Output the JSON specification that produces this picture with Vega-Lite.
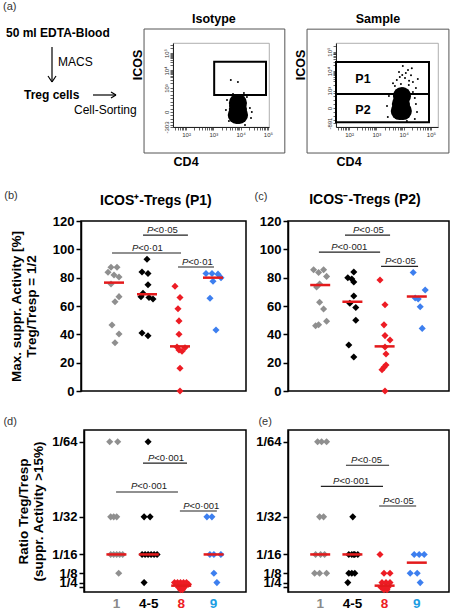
{
 "$schema": "https://vega.github.io/schema/vega-lite/v6.json",
 "padding": {"left": 2, "top": 1, "right": 0, "bottom": 0},
 "config": {"font": "Liberation Sans", "view": {"stroke": null}, "axis": {"grid": false, "labelFlush": false, "labelOverlap": false}},
 "datasets": {
  "flowText": [
   {"x": 0, "y": -36, "t": "(a)", "k": "tag"},
   {"x": 3, "y": -10, "t": "50 ml EDTA-Blood", "k": "bold"},
   {"x": 21, "y": 52, "t": "Treg cells", "k": "bold"},
   {"x": 55, "y": 19, "t": "MACS", "k": "plain"},
   {"x": 71, "y": 67, "t": "Cell-Sorting", "k": "plain"}
  ],
  "flowArrows": [
   {"x": 49, "y": 4, "x2": 49, "y2": 39},
   {"x": 45, "y": 33, "x2": 49, "y2": 39},
   {"x": 53, "y": 33, "x2": 49, "y2": 39},
   {"x": 90, "y": 52, "x2": 113, "y2": 52},
   {"x": 108, "y": 49, "x2": 113, "y2": 52},
   {"x": 108, "y": 55, "x2": 113, "y2": 52}
  ],
  "isoBoxes": [
   {"x": 0.458, "x2": 5.62, "y": -0.716, "y2": 6.37, "k": "outer"},
   {"x": 3.03, "x2": 4.93, "y": 2.6, "y2": 4.5, "k": "gate"}
  ],
  "isoCells": [
   {"x": 3.9, "y": 2.14, "k": "core"}, {"x": 3.9, "y": 1.8, "k": "core"}, {"x": 3.86, "y": 1.46, "k": "core"}, {"x": 3.94, "y": 1.46, "k": "core"},
   {"x": 3.5, "y": 2.31, "k": "speck"}, {"x": 4.34, "y": 1.86, "k": "speck"}, {"x": 4.23, "y": 2.48, "k": "speck"}, {"x": 3.57, "y": 1.11, "k": "speck"},
   {"x": 4.38, "y": 1.28, "k": "speck"}, {"x": 3.72, "y": 2.66, "k": "speck"}, {"x": 4.12, "y": 2.71, "k": "speck"}, {"x": 3.46, "y": 1.74, "k": "speck"},
   {"x": 4.41, "y": 1.63, "k": "speck"}, {"x": 3.64, "y": 3.46, "k": "speck"}, {"x": 3.9, "y": 3.34, "k": "speck"}, {"x": 4.16, "y": 0.88, "k": "speck"},
   {"x": 3.61, "y": 1.97, "k": "speck"}
  ],
  "isoText": [
   {"x": 3.02, "y": 6.94, "t": "Isotype", "k": "lab"},
   {"x": 2.0, "y": -1.23, "t": "CD4", "k": "lab"},
   {"x": 0.24, "y": 4.31, "t": "ICOS", "k": "ylab"}
  ],
  "samBoxes": [
   {"x": 0.458, "x2": 5.66, "y": -0.205, "y2": 6.15, "k": "outer"},
   {"x": 1.52, "x2": 4.93, "y": 2.82, "y2": 4.46, "k": "gate"},
   {"x": 1.52, "x2": 4.93, "y": 1.38, "y2": 2.82, "k": "gate"}
  ],
  "samCells": [
   {"x": 3.94, "y": 2.72, "k": "core"}, {"x": 3.9, "y": 2.31, "k": "core"}, {"x": 3.86, "y": 1.95, "k": "core"}, {"x": 3.97, "y": 1.95, "k": "core"},
   {"x": 3.97, "y": 4.26, "k": "speck"}, {"x": 4.16, "y": 4.05, "k": "speck"}, {"x": 3.83, "y": 3.95, "k": "speck"}, {"x": 4.27, "y": 3.79, "k": "speck"},
   {"x": 4.05, "y": 3.64, "k": "speck"}, {"x": 3.75, "y": 3.54, "k": "speck"}, {"x": 4.34, "y": 3.44, "k": "speck"}, {"x": 3.9, "y": 3.33, "k": "speck"},
   {"x": 4.19, "y": 3.28, "k": "speck"}, {"x": 3.68, "y": 3.23, "k": "speck"}, {"x": 4.45, "y": 3.13, "k": "speck"}, {"x": 4.08, "y": 3.9, "k": "speck"},
   {"x": 3.86, "y": 3.69, "k": "speck"}, {"x": 4.3, "y": 4.15, "k": "speck"}, {"x": 4.01, "y": 4.46, "k": "speck"}, {"x": 4.52, "y": 3.59, "k": "speck"},
   {"x": 3.61, "y": 3.38, "k": "speck"}, {"x": 4.34, "y": 2.92, "k": "speck"}, {"x": 4.41, "y": 2.62, "k": "speck"}, {"x": 3.46, "y": 2.72, "k": "speck"},
   {"x": 4.45, "y": 2.31, "k": "speck"}, {"x": 3.39, "y": 2.21, "k": "speck"}, {"x": 4.49, "y": 1.9, "k": "speck"}, {"x": 3.42, "y": 1.64, "k": "speck"},
   {"x": 4.41, "y": 1.54, "k": "speck"}, {"x": 4.93, "y": 4.36, "k": "speck"}, {"x": 3.72, "y": 1.59, "k": "speck"}, {"x": 4.12, "y": 1.44, "k": "speck"},
   {"x": 4.0, "y": 3.1, "k": "speck"}, {"x": 3.8, "y": 3.05, "k": "speck"}, {"x": 4.2, "y": 3.5, "k": "speck"}, {"x": 3.95, "y": 3.8, "k": "speck"}
  ],
  "samText": [
   {"x": 3.06, "y": 6.67, "t": "Sample", "k": "lab"},
   {"x": 2.0, "y": -0.67, "t": "CD4", "k": "lab"},
   {"x": 2.51, "y": 3.59, "t": "P1", "k": "lab"},
   {"x": 2.51, "y": 2.0, "t": "P2", "k": "lab"},
   {"x": 0.24, "y": 4.31, "t": "ICOS", "k": "ylab"}
  ],
  "ptsB": [
   {"grp": "1", "v": 87.3, "jit": -3}, {"grp": "1", "v": 87.3, "jit": 3}, {"grp": "1", "v": 83.8, "jit": -6}, {"grp": "1", "v": 81.9, "jit": 0}, {"grp": "1", "v": 80.5, "jit": 5}, {"grp": "1", "v": 75.5, "jit": -3}, {"grp": "1", "v": 66.6, "jit": 5}, {"grp": "1", "v": 63, "jit": 1}, {"grp": "1", "v": 46.6, "jit": -2}, {"grp": "1", "v": 40.2, "jit": 5}, {"grp": "1", "v": 34.1, "jit": 1},
   {"grp": "4-5", "v": 93, "jit": 0}, {"grp": "4-5", "v": 84, "jit": -5}, {"grp": "4-5", "v": 83, "jit": 1}, {"grp": "4-5", "v": 75, "jit": 1}, {"grp": "4-5", "v": 69, "jit": -4}, {"grp": "4-5", "v": 66.5, "jit": -6}, {"grp": "4-5", "v": 66, "jit": 2}, {"grp": "4-5", "v": 65, "jit": 6}, {"grp": "4-5", "v": 41, "jit": -5}, {"grp": "4-5", "v": 39, "jit": 1},
   {"grp": "8", "v": 74, "jit": -5}, {"grp": "8", "v": 66, "jit": 0}, {"grp": "8", "v": 58, "jit": -2}, {"grp": "8", "v": 49.5, "jit": -1}, {"grp": "8", "v": 40, "jit": -1}, {"grp": "8", "v": 31, "jit": -3}, {"grp": "8", "v": 30.5, "jit": 5}, {"grp": "8", "v": 29, "jit": -1}, {"grp": "8", "v": 28, "jit": 2}, {"grp": "8", "v": 16, "jit": 0}, {"grp": "8", "v": 0, "jit": 0},
   {"grp": "9", "v": 83, "jit": -7}, {"grp": "9", "v": 83, "jit": -1}, {"grp": "9", "v": 82.5, "jit": 5}, {"grp": "9", "v": 80, "jit": 8}, {"grp": "9", "v": 77.5, "jit": 0}, {"grp": "9", "v": 65.5, "jit": -3}, {"grp": "9", "v": 43, "jit": 3}
  ],
  "medB": [{"grp": "1", "v": 76.5}, {"grp": "4-5", "v": 68.3}, {"grp": "8", "v": 31.5}, {"grp": "9", "v": 80}],
  "sigB": [
   {"ax": 0.88, "ax2": 2.24, "xt": 1.0, "v": 110, "rest": "<0·05"},
   {"ax": -0.06, "ax2": 2.03, "xt": 0.545, "v": 97.4, "rest": "<0·01"},
   {"ax": 1.94, "ax2": 3.03, "xt": 2.06, "v": 87.5, "rest": "<0·01"}
  ],
  "labB": [{"xt": 1.27, "v": 134, "t": "ICOS⁺-Tregs (P1)", "k": "title"}, {"xt": -3.12, "v": 138, "t": "(b)", "k": "tag"}],
  "ptsC": [
   {"grp": "1", "v": 85.6, "jit": -7}, {"grp": "1", "v": 83.7, "jit": -2}, {"grp": "1", "v": 85.6, "jit": 3}, {"grp": "1", "v": 80.9, "jit": 6}, {"grp": "1", "v": 75.5, "jit": -1}, {"grp": "1", "v": 73.4, "jit": -4}, {"grp": "1", "v": 62.6, "jit": -1}, {"grp": "1", "v": 57.9, "jit": 3}, {"grp": "1", "v": 46.1, "jit": -5}, {"grp": "1", "v": 46.8, "jit": -2}, {"grp": "1", "v": 49.2, "jit": 6},
   {"grp": "4-5", "v": 84, "jit": 1}, {"grp": "4-5", "v": 80, "jit": -5}, {"grp": "4-5", "v": 79, "jit": -1}, {"grp": "4-5", "v": 77, "jit": 1}, {"grp": "4-5", "v": 67, "jit": 1}, {"grp": "4-5", "v": 62, "jit": -3}, {"grp": "4-5", "v": 59, "jit": 3}, {"grp": "4-5", "v": 50, "jit": 3}, {"grp": "4-5", "v": 32.5, "jit": -4}, {"grp": "4-5", "v": 24, "jit": 1},
   {"grp": "8", "v": 78.3, "jit": -5}, {"grp": "8", "v": 60.9, "jit": 0}, {"grp": "8", "v": 46.7, "jit": -1}, {"grp": "8", "v": 39.1, "jit": 0}, {"grp": "8", "v": 36, "jit": 5}, {"grp": "8", "v": 31, "jit": 0}, {"grp": "8", "v": 26.1, "jit": 1}, {"grp": "8", "v": 18.3, "jit": 1}, {"grp": "8", "v": 16.7, "jit": -1}, {"grp": "8", "v": 15, "jit": -3}, {"grp": "8", "v": 0, "jit": 0},
   {"grp": "9", "v": 83.7, "jit": -4}, {"grp": "9", "v": 71.3, "jit": 8}, {"grp": "9", "v": 65.6, "jit": -2}, {"grp": "9", "v": 64.9, "jit": 1}, {"grp": "9", "v": 59.5, "jit": 3}, {"grp": "9", "v": 44.2, "jit": 5}
  ],
  "medC": [{"grp": "1", "v": 74.8}, {"grp": "4-5", "v": 63}, {"grp": "8", "v": 31.5}, {"grp": "9", "v": 66.7}],
  "sigC": [
   {"ax": 0.77, "ax2": 2.17, "xt": 1.02, "v": 110, "rest": "<0·05"},
   {"ax": -0.04, "ax2": 1.86, "xt": 0.34, "v": 98, "rest": "<0·001"},
   {"ax": 1.89, "ax2": 3.04, "xt": 2.01, "v": 88, "rest": "<0·05"}
  ],
  "labC": [{"xt": 1.39, "v": 135, "t": "ICOS⁻-Tregs (P2)", "k": "title"}, {"xt": -1.84, "v": 137, "t": "(c)", "k": "tag"}],
  "ptsD": [
   {"grp": "1", "v": 64, "jit": -7}, {"grp": "1", "v": 64, "jit": 1}, {"grp": "1", "v": 32, "jit": -6}, {"grp": "1", "v": 32, "jit": -3}, {"grp": "1", "v": 32, "jit": 0}, {"grp": "1", "v": 16, "jit": -6}, {"grp": "1", "v": 16, "jit": -3}, {"grp": "1", "v": 16, "jit": 0}, {"grp": "1", "v": 16, "jit": 3}, {"grp": "1", "v": 16, "jit": 6}, {"grp": "1", "v": 8, "jit": 2},
   {"grp": "4-5", "v": 64, "jit": -1}, {"grp": "4-5", "v": 32, "jit": -5}, {"grp": "4-5", "v": 32, "jit": 1}, {"grp": "4-5", "v": 16, "jit": -7}, {"grp": "4-5", "v": 16, "jit": -4}, {"grp": "4-5", "v": 16, "jit": -1}, {"grp": "4-5", "v": 16, "jit": 2}, {"grp": "4-5", "v": 16, "jit": 5}, {"grp": "4-5", "v": 16, "jit": 8}, {"grp": "4-5", "v": 4, "jit": -5},
   {"grp": "8", "v": 4, "jit": -7}, {"grp": "8", "v": 4, "jit": -4}, {"grp": "8", "v": 4, "jit": -1}, {"grp": "8", "v": 4, "jit": 2}, {"grp": "8", "v": 4, "jit": 5}, {"grp": "8", "v": 3.3, "jit": 7}, {"grp": "8", "v": 2, "jit": -3}, {"grp": "8", "v": 2, "jit": 0}, {"grp": "8", "v": 2, "jit": 3}, {"grp": "8", "v": 1, "jit": -1}, {"grp": "8", "v": 1, "jit": 1},
   {"grp": "9", "v": 32, "jit": -7}, {"grp": "9", "v": 32, "jit": -2}, {"grp": "9", "v": 16, "jit": -4}, {"grp": "9", "v": 16, "jit": 0}, {"grp": "9", "v": 16, "jit": 7}, {"grp": "9", "v": 8, "jit": 0}, {"grp": "9", "v": 4, "jit": 3}
  ],
  "medD": [{"grp": "1", "v": 16}, {"grp": "4-5", "v": 16}, {"grp": "8", "v": 2.7}, {"grp": "9", "v": 16}],
  "sigD": [
   {"ax": 0.82, "ax2": 2.18, "xt": 0.975, "v": 54.9, "rest": "<0·001"},
   {"ax": -0.01, "ax2": 1.9, "xt": 0.45, "v": 42.6, "rest": "<0·001"},
   {"ax": 1.96, "ax2": 3.1, "xt": 2.06, "v": 34.5, "rest": "<0·001"}
  ],
  "labD": [{"xt": -3.28, "v": 72.3, "t": "(d)", "k": "tag"}],
  "ptsE": [
   {"grp": "1", "v": 64, "jit": -3}, {"grp": "1", "v": 64, "jit": 1}, {"grp": "1", "v": 64, "jit": 6}, {"grp": "1", "v": 32, "jit": -1}, {"grp": "1", "v": 32, "jit": 3}, {"grp": "1", "v": 16, "jit": -5}, {"grp": "1", "v": 16, "jit": 0}, {"grp": "1", "v": 16, "jit": 4}, {"grp": "1", "v": 8, "jit": -6}, {"grp": "1", "v": 8, "jit": -1}, {"grp": "1", "v": 8, "jit": 6},
   {"grp": "4-5", "v": 32, "jit": 0}, {"grp": "4-5", "v": 16, "jit": -4}, {"grp": "4-5", "v": 16, "jit": -1}, {"grp": "4-5", "v": 16, "jit": 2}, {"grp": "4-5", "v": 16, "jit": 5}, {"grp": "4-5", "v": 16, "jit": 1}, {"grp": "4-5", "v": 8, "jit": -4}, {"grp": "4-5", "v": 8, "jit": -1}, {"grp": "4-5", "v": 8, "jit": 2}, {"grp": "4-5", "v": 4, "jit": -5},
   {"grp": "8", "v": 16, "jit": -5}, {"grp": "8", "v": 8, "jit": -1}, {"grp": "8", "v": 8, "jit": 5}, {"grp": "8", "v": 4, "jit": -3}, {"grp": "8", "v": 4, "jit": 1}, {"grp": "8", "v": 4, "jit": 5}, {"grp": "8", "v": 2, "jit": -4}, {"grp": "8", "v": 2, "jit": 0}, {"grp": "8", "v": 2, "jit": 3}, {"grp": "8", "v": 1, "jit": -1}, {"grp": "8", "v": 1, "jit": 2},
   {"grp": "9", "v": 16, "jit": -3}, {"grp": "9", "v": 16, "jit": 2}, {"grp": "9", "v": 16, "jit": 7}, {"grp": "9", "v": 8, "jit": -7}, {"grp": "9", "v": 8, "jit": 0}, {"grp": "9", "v": 4, "jit": 3}
  ],
  "medE": [{"grp": "1", "v": 16}, {"grp": "4-5", "v": 16}, {"grp": "8", "v": 2.7}, {"grp": "9", "v": 12.5}],
  "sigE": [
   {"ax": 0.8, "ax2": 2.14, "xt": 0.96, "v": 54, "rest": "<0·05"},
   {"ax": 0.02, "ax2": 1.95, "xt": 0.4, "v": 45, "rest": "<0·001"},
   {"ax": 1.83, "ax2": 2.98, "xt": 1.95, "v": 36.6, "rest": "<0·05"}
  ],
  "labE": [{"xt": -1.71, "v": 72.3, "t": "(e)", "k": "tag"}]
 },
 "bounds": "flush",
 "spacing": 178,
 "vconcat": [
  {
   "bounds": "flush",
   "spacing": 22,
   "hconcat": [
    {
     "width": 148, "height": 84,
     "layer": [
      {"data": {"name": "flowText"}, "transform": [{"filter": "datum.k === 'bold'"}],
       "mark": {"type": "text", "align": "left", "baseline": "middle", "fontSize": 12, "fontWeight": "bold", "color": "black"},
       "encoding": {"x": {"field": "x", "type": "quantitative", "scale": {"domain": [0, 148], "nice": false, "zero": false}, "axis": null},
                    "y": {"field": "y", "type": "quantitative", "scale": {"domain": [0, 84], "reverse": true, "nice": false, "zero": false}, "axis": null},
                    "text": {"field": "t"}}},
      {"data": {"name": "flowText"}, "transform": [{"filter": "datum.k === 'plain'"}],
       "mark": {"type": "text", "align": "left", "baseline": "middle", "fontSize": 12, "color": "black"},
       "encoding": {"x": {"field": "x", "type": "quantitative", "scale": {"domain": [0, 148], "nice": false, "zero": false}, "axis": null},
                    "y": {"field": "y", "type": "quantitative", "scale": {"domain": [0, 84], "reverse": true, "nice": false, "zero": false}, "axis": null},
                    "text": {"field": "t"}}},
      {"data": {"name": "flowText"}, "transform": [{"filter": "datum.k === 'tag'"}],
       "mark": {"type": "text", "align": "left", "baseline": "middle", "fontSize": 11, "color": "#333"},
       "encoding": {"x": {"field": "x", "type": "quantitative", "scale": {"domain": [0, 148], "nice": false, "zero": false}, "axis": null},
                    "y": {"field": "y", "type": "quantitative", "scale": {"domain": [0, 84], "reverse": true, "nice": false, "zero": false}, "axis": null},
                    "text": {"field": "t"}}},
      {"data": {"name": "flowArrows"},
       "mark": {"type": "rule", "color": "black", "strokeWidth": 1.2},
       "encoding": {"x": {"field": "x", "type": "quantitative", "scale": {"domain": [0, 148], "nice": false, "zero": false}, "axis": null},
                    "y": {"field": "y", "type": "quantitative", "scale": {"domain": [0, 84], "reverse": true, "nice": false, "zero": false}, "axis": null},
                    "x2": {"field": "x2"}, "y2": {"field": "y2"}}}
     ]
    },
    {
     "bounds": "flush",
     "spacing": 67,
     "hconcat": [
      {
       "width": 96, "height": 84,
       "view": {"stroke": "#9a9a9a", "strokeWidth": 0.8},
       "layer": [
        {"data": {"name": "isoBoxes"}, "transform": [{"filter": "datum.k === 'outer'"}],
         "mark": {"type": "rect", "fillOpacity": 0, "stroke": "#555", "strokeWidth": 1},
         "encoding": {
          "x": {"field": "x", "type": "quantitative", "scale": {"domain": [1.52, 5.04], "nice": false, "zero": false},
                "axis": {"title": null, "labelOverlap": false, "tickCount": 200, "values": [1.6, 1.7, 1.78, 1.85, 1.9, 1.95, 2, 2.3, 2.48, 2.6, 2.7, 2.78, 2.85, 2.9, 2.95, 3, 3.3, 3.48, 3.6, 3.7, 3.78, 3.85, 3.9, 3.95, 4, 4.3, 4.48, 4.6, 4.7, 4.78, 4.85, 4.9, 4.95, 5],
                         "labelExpr": "datum.value === 2 ? '10²' : datum.value === 3 ? '10³' : datum.value === 4 ? '10⁴' : datum.value === 5 ? '10⁵' : ''",
                         "labelFontSize": 6, "labelColor": "#333", "labelPadding": 1, "tickSize": 3, "tickColor": "#222", "tickWidth": 0.7, "domainColor": "#222", "domainWidth": 1}},
          "x2": {"field": "x2"},
          "y": {"field": "y", "type": "quantitative", "scale": {"domain": [0.77, 5.57], "nice": false, "zero": false},
                "axis": {"title": null, "labelOverlap": false, "tickCount": 200, "values": [0.77, 0.9, 1.05, 1.25, 1.45, 1.63, 1.8, 2.0, 2.2, 2.4, 2.6, 2.8, 3, 3.3, 3.48, 3.6, 3.7, 3.78, 3.85, 3.9, 3.95, 4, 4.3, 4.48, 4.6, 4.7, 4.78, 4.85, 4.9, 4.95, 5, 5.3, 5.48],
                         "labelExpr": "datum.value === 5 ? '10⁵' : datum.value === 4 ? '10⁴' : datum.value === 3 ? '10³' : datum.value === 1.63 ? '0' : datum.value === 0.77 ? '-303' : ''",
                         "labelAngle": -90, "labelFontSize": 6, "labelColor": "#333", "labelPadding": 1, "tickSize": 3, "tickColor": "#222", "tickWidth": 0.7, "domainColor": "#222", "domainWidth": 1}},
          "y2": {"field": "y2"}}},
        {"data": {"name": "isoBoxes"}, "transform": [{"filter": "datum.k === 'gate'"}],
         "mark": {"type": "rect", "fillOpacity": 0, "stroke": "black", "strokeWidth": 2},
         "encoding": {
          "x": {"field": "x", "type": "quantitative", "scale": {"domain": [1.52, 5.04], "nice": false, "zero": false}},
          "x2": {"field": "x2"},
          "y": {"field": "y", "type": "quantitative", "scale": {"domain": [0.77, 5.57], "nice": false, "zero": false}},
          "y2": {"field": "y2"}}},
        {"data": {"name": "isoCells"}, "transform": [{"filter": "datum.k === 'core'"}],
         "mark": {"type": "point", "shape": "circle", "filled": true, "size": 330, "color": "black", "opacity": 1},
         "encoding": {
          "x": {"field": "x", "type": "quantitative", "scale": {"domain": [1.52, 5.04], "nice": false, "zero": false}},
          "y": {"field": "y", "type": "quantitative", "scale": {"domain": [0.77, 5.57], "nice": false, "zero": false}}}},
        {"data": {"name": "isoCells"}, "transform": [{"filter": "datum.k === 'speck'"}],
         "mark": {"type": "point", "shape": "circle", "filled": true, "size": 4, "color": "black", "opacity": 1},
         "encoding": {
          "x": {"field": "x", "type": "quantitative", "scale": {"domain": [1.52, 5.04], "nice": false, "zero": false}},
          "y": {"field": "y", "type": "quantitative", "scale": {"domain": [0.77, 5.57], "nice": false, "zero": false}}}},
        {"data": {"name": "isoText"}, "transform": [{"filter": "datum.k === 'lab'"}],
         "mark": {"type": "text", "align": "center", "baseline": "middle", "fontSize": 12.5, "fontWeight": "bold", "color": "black"},
         "encoding": {
          "x": {"field": "x", "type": "quantitative", "scale": {"domain": [1.52, 5.04], "nice": false, "zero": false}},
          "y": {"field": "y", "type": "quantitative", "scale": {"domain": [0.77, 5.57], "nice": false, "zero": false}},
          "text": {"field": "t"}}},
        {"data": {"name": "isoText"}, "transform": [{"filter": "datum.k === 'ylab'"}],
         "mark": {"type": "text", "align": "center", "baseline": "middle", "fontSize": 12.5, "fontWeight": "bold", "angle": 270, "color": "black"},
         "encoding": {
          "x": {"field": "x", "type": "quantitative", "scale": {"domain": [1.52, 5.04], "nice": false, "zero": false}},
          "y": {"field": "y", "type": "quantitative", "scale": {"domain": [0.77, 5.57], "nice": false, "zero": false}},
          "text": {"field": "t"}}}
       ]
      },
      {
       "width": 102, "height": 84,
       "view": {"stroke": "#9a9a9a", "strokeWidth": 0.8},
       "layer": [
        {"data": {"name": "samBoxes"}, "transform": [{"filter": "datum.k === 'outer'"}],
         "mark": {"type": "rect", "fillOpacity": 0, "stroke": "#555", "strokeWidth": 1},
         "encoding": {
          "x": {"field": "x", "type": "quantitative", "scale": {"domain": [1.52, 5.26], "nice": false, "zero": false},
                "axis": {"title": null, "labelOverlap": false, "tickCount": 200, "values": [1.6, 1.7, 1.78, 1.85, 1.9, 1.95, 2, 2.3, 2.48, 2.6, 2.7, 2.78, 2.85, 2.9, 2.95, 3, 3.3, 3.48, 3.6, 3.7, 3.78, 3.85, 3.9, 3.95, 4, 4.3, 4.48, 4.6, 4.7, 4.78, 4.85, 4.9, 4.95, 5],
                         "labelExpr": "datum.value === 2 ? '10²' : datum.value === 3 ? '10³' : datum.value === 4 ? '10⁴' : datum.value === 5 ? '10⁵' : ''",
                         "labelFontSize": 6, "labelColor": "#333", "labelPadding": 1, "tickSize": 3, "tickColor": "#222", "tickWidth": 0.7, "domainColor": "#222", "domainWidth": 1}},
          "x2": {"field": "x2"},
          "y": {"field": "y", "type": "quantitative", "scale": {"domain": [1.13, 5.44], "nice": false, "zero": false},
                "axis": {"title": null, "labelOverlap": false, "tickCount": 200, "values": [1.33, 1.5, 1.7, 1.9, 2.1, 2.3, 2.5, 2.7, 2.9, 3, 3.3, 3.48, 3.6, 3.7, 3.78, 3.85, 3.9, 3.95, 4, 4.3, 4.48, 4.6, 4.7, 4.78, 4.85, 4.9, 4.95, 5, 5.3],
                         "labelExpr": "datum.value === 5 ? '10⁵' : datum.value === 4 ? '10⁴' : datum.value === 3 ? '10³' : datum.value === 2.1 ? '0' : datum.value === 1.33 ? '-891' : ''",
                         "labelAngle": -90, "labelFontSize": 6, "labelColor": "#333", "labelPadding": 1, "tickSize": 3, "tickColor": "#222", "tickWidth": 0.7, "domainColor": "#222", "domainWidth": 1}},
          "y2": {"field": "y2"}}},
        {"data": {"name": "samBoxes"}, "transform": [{"filter": "datum.k === 'gate'"}],
         "mark": {"type": "rect", "fillOpacity": 0, "stroke": "black", "strokeWidth": 2},
         "encoding": {
          "x": {"field": "x", "type": "quantitative", "scale": {"domain": [1.52, 5.26], "nice": false, "zero": false}},
          "x2": {"field": "x2"},
          "y": {"field": "y", "type": "quantitative", "scale": {"domain": [1.13, 5.44], "nice": false, "zero": false}},
          "y2": {"field": "y2"}}},
        {"data": {"name": "samCells"}, "transform": [{"filter": "datum.k === 'core'"}],
         "mark": {"type": "point", "shape": "circle", "filled": true, "size": 330, "color": "black", "opacity": 1},
         "encoding": {
          "x": {"field": "x", "type": "quantitative", "scale": {"domain": [1.52, 5.26], "nice": false, "zero": false}},
          "y": {"field": "y", "type": "quantitative", "scale": {"domain": [1.13, 5.44], "nice": false, "zero": false}}}},
        {"data": {"name": "samCells"}, "transform": [{"filter": "datum.k === 'speck'"}],
         "mark": {"type": "point", "shape": "circle", "filled": true, "size": 4, "color": "black", "opacity": 1},
         "encoding": {
          "x": {"field": "x", "type": "quantitative", "scale": {"domain": [1.52, 5.26], "nice": false, "zero": false}},
          "y": {"field": "y", "type": "quantitative", "scale": {"domain": [1.13, 5.44], "nice": false, "zero": false}}}},
        {"data": {"name": "samText"}, "transform": [{"filter": "datum.k === 'lab'"}],
         "mark": {"type": "text", "align": "center", "baseline": "middle", "fontSize": 12.5, "fontWeight": "bold", "color": "black"},
         "encoding": {
          "x": {"field": "x", "type": "quantitative", "scale": {"domain": [1.52, 5.26], "nice": false, "zero": false}},
          "y": {"field": "y", "type": "quantitative", "scale": {"domain": [1.13, 5.44], "nice": false, "zero": false}},
          "text": {"field": "t"}}},
        {"data": {"name": "samText"}, "transform": [{"filter": "datum.k === 'ylab'"}],
         "mark": {"type": "text", "align": "center", "baseline": "middle", "fontSize": 12.5, "fontWeight": "bold", "angle": 270, "color": "black"},
         "encoding": {
          "x": {"field": "x", "type": "quantitative", "scale": {"domain": [1.52, 5.26], "nice": false, "zero": false}},
          "y": {"field": "y", "type": "quantitative", "scale": {"domain": [1.13, 5.44], "nice": false, "zero": false}},
          "text": {"field": "t"}}}
       ]
      }
     ]
    }
   ]
  },
  {
   "bounds": "flush",
   "spacing": 209,
   "vconcat": [
    {
     "bounds": "flush",
     "spacing": 42,
     "hconcat": [
      {"width": 36, "height": 170, "data": {"values": [{}]}, "mark": {"type": "text", "text": ""}, "encoding": {}},
      {
       "width": 165, "height": 170,
       "view": {"stroke": "black", "strokeWidth": 1.5},
       "resolve": {"scale": {"x": "independent"}},
       "layer": [
        {"data": {"name": "ptsB"},
         "mark": {"type": "point", "shape": "diamond", "filled": true, "size": 50, "opacity": 1},
         "encoding": {
          "x": {"field": "grp", "type": "nominal", "scale": {"type": "band", "domain": ["1", "4-5", "8", "9"], "paddingInner": 0, "paddingOuter": 0.5}, "axis": null},
          "xOffset": {"field": "jit", "type": "quantitative", "scale": {"domain": [-16.5, 16.5], "nice": false, "zero": false}},
          "y": {"field": "v", "type": "quantitative", "scale": {"domain": [0, 120], "nice": false, "zero": false},
                "axis": {"title": ["Max. suppr. Activity [%]", "Treg/Tresp = 1/2"], "titleFontSize": 13.5, "titleFontWeight": "bold", "titleColor": "black", "titleLineHeight": 15, "titlePadding": 14,
                         "values": [0, 20, 40, 60, 80, 100, 120], "tickCount": 50, "labelOverlap": false, "labelFontSize": 13, "labelFontWeight": "bold", "labelColor": "black", "labelPadding": 2,
                         "tickSize": 5, "tickWidth": 1.5, "tickColor": "black", "domainColor": "black", "domainWidth": 1.5}},
          "color": {"field": "grp", "type": "nominal", "scale": {"domain": ["1", "4-5", "8", "9"], "range": ["#8f8f8f", "#000000", "#ed1c24", "#3d7fef"]}, "legend": null}}},
        {"data": {"name": "medB"},
         "mark": {"type": "tick", "color": "#e31a1c", "thickness": 2.5, "size": 20, "opacity": 1},
         "encoding": {
          "x": {"field": "grp", "type": "nominal", "scale": {"type": "band", "domain": ["1", "4-5", "8", "9"], "paddingInner": 0, "paddingOuter": 0.5}, "axis": null},
          "y": {"field": "v", "type": "quantitative", "scale": {"domain": [0, 120], "nice": false, "zero": false}}}},
        {"data": {"name": "sigB"},
         "mark": {"type": "rule", "color": "#222", "strokeWidth": 1.1},
         "encoding": {
          "x": {"field": "ax", "type": "quantitative", "scale": {"domain": [-1, 4], "nice": false, "zero": false}, "axis": null},
          "x2": {"field": "ax2"},
          "y": {"field": "v", "type": "quantitative", "scale": {"domain": [0, 120], "nice": false, "zero": false}}}},
        {"data": {"name": "sigB"},
         "mark": {"type": "text", "text": "P", "fontStyle": "italic", "fontSize": 9.5, "align": "left", "baseline": "alphabetic", "dy": -2.5, "color": "#222"},
         "encoding": {
          "x": {"field": "xt", "type": "quantitative", "scale": {"domain": [-1, 4], "nice": false, "zero": false}, "axis": null},
          "y": {"field": "v", "type": "quantitative", "scale": {"domain": [0, 120], "nice": false, "zero": false}}}},
        {"data": {"name": "sigB"},
         "mark": {"type": "text", "fontSize": 9.5, "align": "left", "baseline": "alphabetic", "dx": 6.3, "dy": -2.5, "color": "#222"},
         "encoding": {
          "x": {"field": "xt", "type": "quantitative", "scale": {"domain": [-1, 4], "nice": false, "zero": false}, "axis": null},
          "y": {"field": "v", "type": "quantitative", "scale": {"domain": [0, 120], "nice": false, "zero": false}},
          "text": {"field": "rest"}}},
        {"data": {"name": "labB"}, "transform": [{"filter": "datum.k === 'title'"}],
         "mark": {"type": "text", "fontSize": 14, "fontWeight": "bold", "align": "center", "baseline": "middle", "color": "black"},
         "encoding": {
          "x": {"field": "xt", "type": "quantitative", "scale": {"domain": [-1, 4], "nice": false, "zero": false}, "axis": null},
          "y": {"field": "v", "type": "quantitative", "scale": {"domain": [0, 120], "nice": false, "zero": false}},
          "text": {"field": "t"}}},
        {"data": {"name": "labB"}, "transform": [{"filter": "datum.k === 'tag'"}],
         "mark": {"type": "text", "fontSize": 11, "align": "center", "baseline": "middle", "color": "#333"},
         "encoding": {
          "x": {"field": "xt", "type": "quantitative", "scale": {"domain": [-1, 4], "nice": false, "zero": false}, "axis": null},
          "y": {"field": "v", "type": "quantitative", "scale": {"domain": [0, 120], "nice": false, "zero": false}},
          "text": {"field": "t"}}}
       ]
      },
      {
       "width": 161, "height": 170,
       "view": {"stroke": "black", "strokeWidth": 1.5},
       "resolve": {"scale": {"x": "independent"}},
       "layer": [
        {"data": {"name": "ptsC"},
         "mark": {"type": "point", "shape": "diamond", "filled": true, "size": 50, "opacity": 1},
         "encoding": {
          "x": {"field": "grp", "type": "nominal", "scale": {"type": "band", "domain": ["1", "4-5", "8", "9"], "paddingInner": 0, "paddingOuter": 0.5}, "axis": null},
          "xOffset": {"field": "jit", "type": "quantitative", "scale": {"domain": [-16.5, 16.5], "nice": false, "zero": false}},
          "y": {"field": "v", "type": "quantitative", "scale": {"domain": [0, 120], "nice": false, "zero": false},
                "axis": {"title": null,
                         "values": [0, 20, 40, 60, 80, 100, 120], "tickCount": 50, "labelOverlap": false, "labelFontSize": 13, "labelFontWeight": "bold", "labelColor": "black", "labelPadding": 2,
                         "tickSize": 5, "tickWidth": 1.5, "tickColor": "black", "domainColor": "black", "domainWidth": 1.5}},
          "color": {"field": "grp", "type": "nominal", "scale": {"domain": ["1", "4-5", "8", "9"], "range": ["#8f8f8f", "#000000", "#ed1c24", "#3d7fef"]}, "legend": null}}},
        {"data": {"name": "medC"},
         "mark": {"type": "tick", "color": "#e31a1c", "thickness": 2.5, "size": 20, "opacity": 1},
         "encoding": {
          "x": {"field": "grp", "type": "nominal", "scale": {"type": "band", "domain": ["1", "4-5", "8", "9"], "paddingInner": 0, "paddingOuter": 0.5}, "axis": null},
          "y": {"field": "v", "type": "quantitative", "scale": {"domain": [0, 120], "nice": false, "zero": false}}}},
        {"data": {"name": "sigC"},
         "mark": {"type": "rule", "color": "#222", "strokeWidth": 1.1},
         "encoding": {
          "x": {"field": "ax", "type": "quantitative", "scale": {"domain": [-1, 4], "nice": false, "zero": false}, "axis": null},
          "x2": {"field": "ax2"},
          "y": {"field": "v", "type": "quantitative", "scale": {"domain": [0, 120], "nice": false, "zero": false}}}},
        {"data": {"name": "sigC"},
         "mark": {"type": "text", "text": "P", "fontStyle": "italic", "fontSize": 9.5, "align": "left", "baseline": "alphabetic", "dy": -2.5, "color": "#222"},
         "encoding": {
          "x": {"field": "xt", "type": "quantitative", "scale": {"domain": [-1, 4], "nice": false, "zero": false}, "axis": null},
          "y": {"field": "v", "type": "quantitative", "scale": {"domain": [0, 120], "nice": false, "zero": false}}}},
        {"data": {"name": "sigC"},
         "mark": {"type": "text", "fontSize": 9.5, "align": "left", "baseline": "alphabetic", "dx": 6.3, "dy": -2.5, "color": "#222"},
         "encoding": {
          "x": {"field": "xt", "type": "quantitative", "scale": {"domain": [-1, 4], "nice": false, "zero": false}, "axis": null},
          "y": {"field": "v", "type": "quantitative", "scale": {"domain": [0, 120], "nice": false, "zero": false}},
          "text": {"field": "rest"}}},
        {"data": {"name": "labC"}, "transform": [{"filter": "datum.k === 'title'"}],
         "mark": {"type": "text", "fontSize": 14, "fontWeight": "bold", "align": "center", "baseline": "middle", "color": "black"},
         "encoding": {
          "x": {"field": "xt", "type": "quantitative", "scale": {"domain": [-1, 4], "nice": false, "zero": false}, "axis": null},
          "y": {"field": "v", "type": "quantitative", "scale": {"domain": [0, 120], "nice": false, "zero": false}},
          "text": {"field": "t"}}},
        {"data": {"name": "labC"}, "transform": [{"filter": "datum.k === 'tag'"}],
         "mark": {"type": "text", "fontSize": 11, "align": "center", "baseline": "middle", "color": "#333"},
         "encoding": {
          "x": {"field": "xt", "type": "quantitative", "scale": {"domain": [-1, 4], "nice": false, "zero": false}, "axis": null},
          "y": {"field": "v", "type": "quantitative", "scale": {"domain": [0, 120], "nice": false, "zero": false}},
          "text": {"field": "t"}}}
       ]
      }
     ]
    },
    {
     "bounds": "flush",
     "spacing": 42,
     "hconcat": [
      {"width": 39, "height": 162, "data": {"values": [{}]}, "mark": {"type": "text", "text": ""}, "encoding": {}},
      {
       "width": 162, "height": 162,
       "view": {"stroke": "black", "strokeWidth": 1.5},
       "resolve": {"scale": {"x": "independent"}},
       "layer": [
        {"data": {"name": "ptsD"},
         "mark": {"type": "point", "shape": "diamond", "filled": true, "size": 50, "opacity": 1},
         "encoding": {
          "x": {"field": "grp", "type": "nominal", "scale": {"type": "band", "domain": ["1", "4-5", "8", "9"], "paddingInner": 0, "paddingOuter": 0.5},
                "axis": {"title": null, "labelAngle": 0, "ticks": false, "domain": false, "labelFontSize": 13.5, "labelFontWeight": "bold", "labelPadding": 4,
                         "labelColor": {"condition": [{"test": "datum.value === '1'", "value": "#8a8a8a"}, {"test": "datum.value === '8'", "value": "#ed1c24"}, {"test": "datum.value === '9'", "value": "#1b9de2"}], "value": "#000000"}}},
          "xOffset": {"field": "jit", "type": "quantitative", "scale": {"domain": [-16.5, 16.5], "nice": false, "zero": false}},
          "y": {"field": "v", "type": "quantitative", "scale": {"domain": [0, 69], "nice": false, "zero": false},
                "axis": {"title": ["Ratio Treg/Tresp", "(suppr. Activity >15%)"], "titleFontSize": 13.5, "titleFontWeight": "bold", "titleColor": "black", "titleLineHeight": 15, "titlePadding": 6,
                         "values": [2, 4, 8, 16, 32, 64], "tickCount": 50, "labelExpr": "datum.value === 2 ? '' : '1/' + datum.value", "labelOverlap": false,
                         "labelFontSize": 13, "labelFontWeight": "bold", "labelColor": "black", "labelPadding": 2,
                         "tickSize": 5, "tickWidth": 1.5, "tickColor": "black", "domainColor": "black", "domainWidth": 1.5}},
          "color": {"field": "grp", "type": "nominal", "scale": {"domain": ["1", "4-5", "8", "9"], "range": ["#8f8f8f", "#000000", "#ed1c24", "#3d7fef"]}, "legend": null}}},
        {"data": {"name": "medD"},
         "mark": {"type": "tick", "color": "#e31a1c", "thickness": 2.5, "size": 20, "opacity": 1},
         "encoding": {
          "x": {"field": "grp", "type": "nominal", "scale": {"type": "band", "domain": ["1", "4-5", "8", "9"], "paddingInner": 0, "paddingOuter": 0.5}, "axis": null},
          "y": {"field": "v", "type": "quantitative", "scale": {"domain": [0, 69], "nice": false, "zero": false}}}},
        {"data": {"name": "sigD"},
         "mark": {"type": "rule", "color": "#222", "strokeWidth": 1.1},
         "encoding": {
          "x": {"field": "ax", "type": "quantitative", "scale": {"domain": [-1, 4], "nice": false, "zero": false}, "axis": null},
          "x2": {"field": "ax2"},
          "y": {"field": "v", "type": "quantitative", "scale": {"domain": [0, 69], "nice": false, "zero": false}}}},
        {"data": {"name": "sigD"},
         "mark": {"type": "text", "text": "P", "fontStyle": "italic", "fontSize": 9.5, "align": "left", "baseline": "alphabetic", "dy": -2.5, "color": "#222"},
         "encoding": {
          "x": {"field": "xt", "type": "quantitative", "scale": {"domain": [-1, 4], "nice": false, "zero": false}, "axis": null},
          "y": {"field": "v", "type": "quantitative", "scale": {"domain": [0, 69], "nice": false, "zero": false}}}},
        {"data": {"name": "sigD"},
         "mark": {"type": "text", "fontSize": 9.5, "align": "left", "baseline": "alphabetic", "dx": 6.3, "dy": -2.5, "color": "#222"},
         "encoding": {
          "x": {"field": "xt", "type": "quantitative", "scale": {"domain": [-1, 4], "nice": false, "zero": false}, "axis": null},
          "y": {"field": "v", "type": "quantitative", "scale": {"domain": [0, 69], "nice": false, "zero": false}},
          "text": {"field": "rest"}}},
        {"data": {"name": "labD"},
         "mark": {"type": "text", "fontSize": 11, "align": "center", "baseline": "middle", "color": "#333"},
         "encoding": {
          "x": {"field": "xt", "type": "quantitative", "scale": {"domain": [-1, 4], "nice": false, "zero": false}, "axis": null},
          "y": {"field": "v", "type": "quantitative", "scale": {"domain": [0, 69], "nice": false, "zero": false}},
          "text": {"field": "t"}}}
       ]
      },
      {
       "width": 161, "height": 162,
       "view": {"stroke": "black", "strokeWidth": 1.5},
       "resolve": {"scale": {"x": "independent"}},
       "layer": [
        {"data": {"name": "ptsE"},
         "mark": {"type": "point", "shape": "diamond", "filled": true, "size": 50, "opacity": 1},
         "encoding": {
          "x": {"field": "grp", "type": "nominal", "scale": {"type": "band", "domain": ["1", "4-5", "8", "9"], "paddingInner": 0, "paddingOuter": 0.5},
                "axis": {"title": null, "labelAngle": 0, "ticks": false, "domain": false, "labelFontSize": 13.5, "labelFontWeight": "bold", "labelPadding": 4,
                         "labelColor": {"condition": [{"test": "datum.value === '1'", "value": "#8a8a8a"}, {"test": "datum.value === '8'", "value": "#ed1c24"}, {"test": "datum.value === '9'", "value": "#1b9de2"}], "value": "#000000"}}},
          "xOffset": {"field": "jit", "type": "quantitative", "scale": {"domain": [-16.5, 16.5], "nice": false, "zero": false}},
          "y": {"field": "v", "type": "quantitative", "scale": {"domain": [0, 69], "nice": false, "zero": false},
                "axis": {"title": null,
                         "values": [2, 4, 8, 16, 32, 64], "tickCount": 50, "labelExpr": "datum.value === 2 ? '' : '1/' + datum.value", "labelOverlap": false,
                         "labelFontSize": 13, "labelFontWeight": "bold", "labelColor": "black", "labelPadding": 2,
                         "tickSize": 5, "tickWidth": 1.5, "tickColor": "black", "domainColor": "black", "domainWidth": 1.5}},
          "color": {"field": "grp", "type": "nominal", "scale": {"domain": ["1", "4-5", "8", "9"], "range": ["#8f8f8f", "#000000", "#ed1c24", "#3d7fef"]}, "legend": null}}},
        {"data": {"name": "medE"},
         "mark": {"type": "tick", "color": "#e31a1c", "thickness": 2.5, "size": 20, "opacity": 1},
         "encoding": {
          "x": {"field": "grp", "type": "nominal", "scale": {"type": "band", "domain": ["1", "4-5", "8", "9"], "paddingInner": 0, "paddingOuter": 0.5}, "axis": null},
          "y": {"field": "v", "type": "quantitative", "scale": {"domain": [0, 69], "nice": false, "zero": false}}}},
        {"data": {"name": "sigE"},
         "mark": {"type": "rule", "color": "#222", "strokeWidth": 1.1},
         "encoding": {
          "x": {"field": "ax", "type": "quantitative", "scale": {"domain": [-1, 4], "nice": false, "zero": false}, "axis": null},
          "x2": {"field": "ax2"},
          "y": {"field": "v", "type": "quantitative", "scale": {"domain": [0, 69], "nice": false, "zero": false}}}},
        {"data": {"name": "sigE"},
         "mark": {"type": "text", "text": "P", "fontStyle": "italic", "fontSize": 9.5, "align": "left", "baseline": "alphabetic", "dy": -2.5, "color": "#222"},
         "encoding": {
          "x": {"field": "xt", "type": "quantitative", "scale": {"domain": [-1, 4], "nice": false, "zero": false}, "axis": null},
          "y": {"field": "v", "type": "quantitative", "scale": {"domain": [0, 69], "nice": false, "zero": false}}}},
        {"data": {"name": "sigE"},
         "mark": {"type": "text", "fontSize": 9.5, "align": "left", "baseline": "alphabetic", "dx": 6.3, "dy": -2.5, "color": "#222"},
         "encoding": {
          "x": {"field": "xt", "type": "quantitative", "scale": {"domain": [-1, 4], "nice": false, "zero": false}, "axis": null},
          "y": {"field": "v", "type": "quantitative", "scale": {"domain": [0, 69], "nice": false, "zero": false}},
          "text": {"field": "rest"}}},
        {"data": {"name": "labE"},
         "mark": {"type": "text", "fontSize": 11, "align": "center", "baseline": "middle", "color": "#333"},
         "encoding": {
          "x": {"field": "xt", "type": "quantitative", "scale": {"domain": [-1, 4], "nice": false, "zero": false}, "axis": null},
          "y": {"field": "v", "type": "quantitative", "scale": {"domain": [0, 69], "nice": false, "zero": false}},
          "text": {"field": "t"}}}
       ]
      }
     ]
    }
   ]
  }
 ]
}
